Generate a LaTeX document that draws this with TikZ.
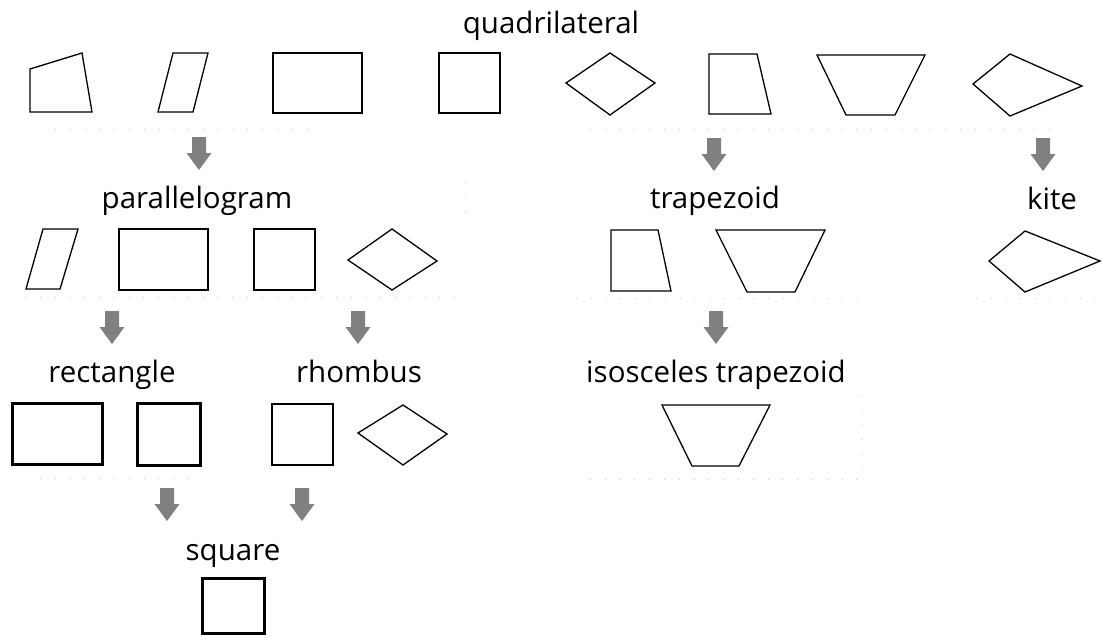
\documentclass[tikz,border=0pt]{standalone}
\usepackage{fontspec}
\setmainfont{Open Sans}
\begin{document}
\begin{tikzpicture}[x=1pt,y=-1pt,
  outline/.style={draw=black,line width=1.3pt,line join=miter,fill=white},
  boldoutline/.style={draw=black,line width=3pt,line join=miter,fill=white},
  heading/.style={anchor=base,inner sep=0pt,font=\fontsize{29.5}{34}\selectfont},
  ruletrace/.style={draw=black!22,line width=0.7pt,dash pattern=on 0.8pt off 14pt},
  blockarrow/.pic={\fill[black!50] (-7,0) -- (7,0) -- (7,16) -- (12.5,16) -- (0,33) -- (-12.5,16) -- (-7,16) -- cycle;}]
\useasboundingbox (0,0) rectangle (1105,643);

% faint traces of the table rules between the rows
\draw[ruletrace] (55,129) -- (315,129);
\draw[ruletrace] (590,129) -- (1062,129);
\draw[ruletrace] (25,297) -- (465,297);
\draw[ruletrace] (576,298) -- (864,298);
\draw[ruletrace] (976,298) -- (1105,298);
\draw[ruletrace] (40,478) -- (190,478);
\draw[ruletrace] (590,479) -- (862,479);
\draw[ruletrace] (465,182) -- (465,222);
\draw[ruletrace] (861,395) -- (861,475);

% headings
\node[heading] (quad)  at (551,33)  {quadrilateral};
\node[heading] (para)  at (197,208) {parallelogram};
\node[heading] (trap)  at (715,208) {trapezoid};
\node[heading] (kite)  at (1052,209) {kite};
\node[heading] (rect)  at (112,382) {rectangle};
\node[heading] (rhom)  at (359,382) {rhombus};
\node[heading] (isos)  at (716,382) {isosceles trapezoid};
\node[heading] (sq)    at (233,560) {square};

% row 1: all quadrilaterals
\draw[outline] (30,69) -- (82,53) -- (92,112) -- (30,112) -- cycle;
\draw[outline] (173,53) -- (208,53) -- (193,112) -- (158,112) -- cycle;
\draw[outline] (273,53) rectangle (362,113);
\draw[outline] (439,53) rectangle (500,113);
\draw[outline] (566,83) -- (610,53) -- (655,83) -- (610,115) -- cycle;
\draw[outline] (709,54) -- (757,54) -- (771,114) -- (709,114) -- cycle;
\draw[outline] (817,55) -- (925,55) -- (895,115) -- (846,115) -- cycle;
\draw[outline] (973,84) -- (1010,54) -- (1082,86) -- (1010,116) -- cycle;

\pic at (199,137) {blockarrow};
\pic at (714,138) {blockarrow};
\pic at (1043,138) {blockarrow};

% row 2: parallelograms, trapezoids, kite
\draw[outline] (43,229) -- (78,229) -- (60,289) -- (26,289) -- cycle;
\draw[outline] (119,229) rectangle (208,290);
\draw[outline] (254,229) rectangle (315,290);
\draw[outline] (348,260) -- (392,229) -- (437,261) -- (392,290) -- cycle;
\draw[outline] (611,230) -- (658,230) -- (671,291) -- (611,291) -- cycle;
\draw[outline] (716,230) -- (825,230) -- (795,292) -- (747,292) -- cycle;
\draw[outline] (989,261) -- (1025,231) -- (1100,261) -- (1025,292) -- cycle;

\pic at (112,311) {blockarrow};
\pic at (358,311) {blockarrow};
\pic at (716,311) {blockarrow};

% row 3: rectangles, rhombi, isosceles trapezoid
\draw[boldoutline] (12,403) rectangle (102,464);
\draw[boldoutline] (137,403) rectangle (200,465);
\draw[outline] (272,404) rectangle (333,465);
\draw[outline] (358,433) -- (403,405) -- (447,434) -- (403,465) -- cycle;
\draw[outline] (662,405) -- (770,405) -- (739,466) -- (692,466) -- cycle;

\pic at (167,488) {blockarrow};
\pic at (302,488) {blockarrow};

% row 4: square
\draw[boldoutline] (202,578) rectangle (264,633);
\end{tikzpicture}
\end{document}
